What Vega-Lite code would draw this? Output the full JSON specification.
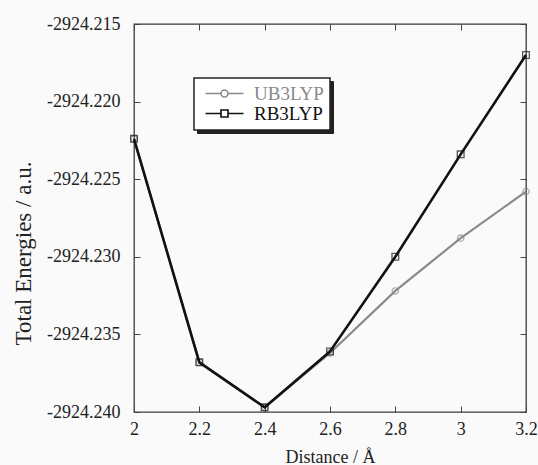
{
  "$schema": "https://vega.github.io/schema/vega-lite/v6.json",
  "width": 392,
  "height": 388,
  "autosize": {"type": "none"},
  "padding": {"left": 134, "top": 24, "right": 12, "bottom": 53},
  "background": "#fafafa",
  "config": {
    "font": "serif",
    "style": {
      "guide-label": {"font": "serif"},
      "guide-title": {"font": "Liberation Serif"}
    },
    "view": {"stroke": "#3a3a3a", "strokeWidth": 1.3},
    "axis": {
      "domain": false,
      "grid": false,
      "tickColor": "#444",
      "tickWidth": 1,
      "tickSize": -6,
      "labelFont": "serif",
      "labelFontSize": 18,
      "labelColor": "#222",
      "titleFont": "Liberation Serif",
      "titleFontSize": 18,
      "titleFontWeight": "normal",
      "titleColor": "#222"
    },
    "legend": {"labelFont": "serif"}
  },
  "data": {
    "values": [
      {"method": "UB3LYP", "distance": 2.0, "energy": -2924.2224},
      {"method": "UB3LYP", "distance": 2.2, "energy": -2924.2368},
      {"method": "UB3LYP", "distance": 2.4, "energy": -2924.2397},
      {"method": "UB3LYP", "distance": 2.6, "energy": -2924.2362},
      {"method": "UB3LYP", "distance": 2.8, "energy": -2924.2322},
      {"method": "UB3LYP", "distance": 3.0, "energy": -2924.2288},
      {"method": "UB3LYP", "distance": 3.2, "energy": -2924.2258},
      {"method": "RB3LYP", "distance": 2.0, "energy": -2924.2224},
      {"method": "RB3LYP", "distance": 2.2, "energy": -2924.2368},
      {"method": "RB3LYP", "distance": 2.4, "energy": -2924.2397},
      {"method": "RB3LYP", "distance": 2.6, "energy": -2924.2361},
      {"method": "RB3LYP", "distance": 2.8, "energy": -2924.2300},
      {"method": "RB3LYP", "distance": 3.0, "energy": -2924.2234},
      {"method": "RB3LYP", "distance": 3.2, "energy": -2924.2170}
    ]
  },
  "resolve": {"axis": {"x": "independent", "y": "independent"}},
  "layer": [
    {
      "encoding": {
        "x": {
          "field": "distance",
          "type": "quantitative",
          "scale": {"domain": [2, 3.2], "nice": false, "zero": false},
          "axis": {
            "orient": "bottom",
            "title": "Distance / Å",
            "values": [2, 2.2, 2.4, 2.6, 2.8, 3, 3.2],
            "format": ".1~f",
            "labelFont": "serif",
            "labelPadding": 14,
            "labelFlush": false,
            "titleFont": "Liberation Serif",
            "titleY": 50,
            "titleBaseline": "alphabetic"
          }
        },
        "y": {
          "field": "energy",
          "type": "quantitative",
          "scale": {"domain": [-2924.24, -2924.215], "nice": false, "zero": false},
          "axis": {
            "orient": "left",
            "title": "Total Energies / a.u.",
            "values": [-2924.24, -2924.235, -2924.23, -2924.225, -2924.22, -2924.215],
            "labelExpr": "'-' + format(abs(datum.value), '.3f')",
            "labelFont": "serif",
            "labelPadding": 20,
            "labelFlush": false,
            "titleFont": "Liberation Serif",
            "titleFontSize": 23,
            "titleX": -104,
            "titleY": 229,
            "titleAngle": -90,
            "titleBaseline": "alphabetic"
          }
        },
        "color": {
          "field": "method",
          "type": "nominal",
          "scale": {"domain": ["UB3LYP", "RB3LYP"], "range": ["#8a8a8a", "#111111"]},
          "legend": {
            "title": null,
            "orient": "none",
            "legendX": 60,
            "legendY": 54,
            "zindex": 2,
            "direction": "vertical",
            "strokeColor": "#222",
            "fillColor": "#ffffff",
            "padding": 6,
            "symbolSize": 64,
            "symbolStrokeWidth": 1.6,
            "symbolFillColor": "transparent",
            "labelOffset": 35,
            "labelFontSize": 19,
            "labelFont": "serif",
            "rowPadding": 0,
            "encode": {
              "legend": {
                "update": {"strokeWidth": {"value": 1.5}}
              },
              "symbols": {
                "update": {
                  "shape": {"signal": "datum.value === 'UB3LYP' ? 'M-1,0H2.875M4.625,0H8.5M2.875,0A0.875,0.875 0 1,1 4.625,0A0.875,0.875 0 1,1 2.875,0' : 'M-1,0H2.875M4.625,0H8.5M2.875,-0.875H4.625V0.875H2.875Z'"},
                  "fill": {"value": "transparent"}
                }
              },
              "labels": {
                "update": {
                  "fill": {"signal": "datum.value === 'UB3LYP' ? '#8a8a8a' : '#111111'"},
                  "font": {"value": "Liberation Serif"}
                }
              }
            }
          }
        }
      },
      "layer": [
        {
          "transform": [{"filter": "datum.method === 'UB3LYP'"}],
          "mark": {"type": "line", "strokeWidth": 2.2}
        },
        {
          "transform": [{"filter": "datum.method === 'UB3LYP'"}],
          "mark": {"type": "point", "shape": "circle", "size": 40, "filled": false, "strokeWidth": 1.3}
        },
        {
          "transform": [{"filter": "datum.method === 'RB3LYP'"}],
          "mark": {"type": "line", "strokeWidth": 2.6}
        },
        {
          "transform": [{"filter": "datum.method === 'RB3LYP'"}],
          "mark": {"type": "point", "shape": "square", "size": 45, "filled": false, "strokeWidth": 1.3}
        }
      ]
    },
    {
      "mark": {"type": "point", "opacity": 0},
      "encoding": {
        "x": {
          "field": "distance",
          "type": "quantitative",
          "axis": {"orient": "top", "labels": false, "title": null, "values": [2, 2.2, 2.4, 2.6, 2.8, 3, 3.2]}
        },
        "y": {
          "field": "energy",
          "type": "quantitative",
          "axis": {"orient": "right", "labels": false, "title": null, "values": [-2924.24, -2924.235, -2924.23, -2924.225, -2924.22, -2924.215]}
        },
        "shape": {
          "field": "method",
          "type": "nominal",
          "scale": {"domain": ["RB3LYP", "UB3LYP"]},
          "legend": {
            "title": null,
            "orient": "none",
            "legendX": 63,
            "legendY": 57,
            "zindex": 1,
            "direction": "vertical",
            "strokeColor": "#222",
            "fillColor": "#222",
            "padding": 6,
            "symbolSize": 64,
            "symbolOpacity": 0,
            "labelOffset": 35,
            "labelFontSize": 19,
            "labelFont": "Liberation Serif",
            "labelOpacity": 0,
            "rowPadding": 0
          }
        }
      }
    }
  ]
}
